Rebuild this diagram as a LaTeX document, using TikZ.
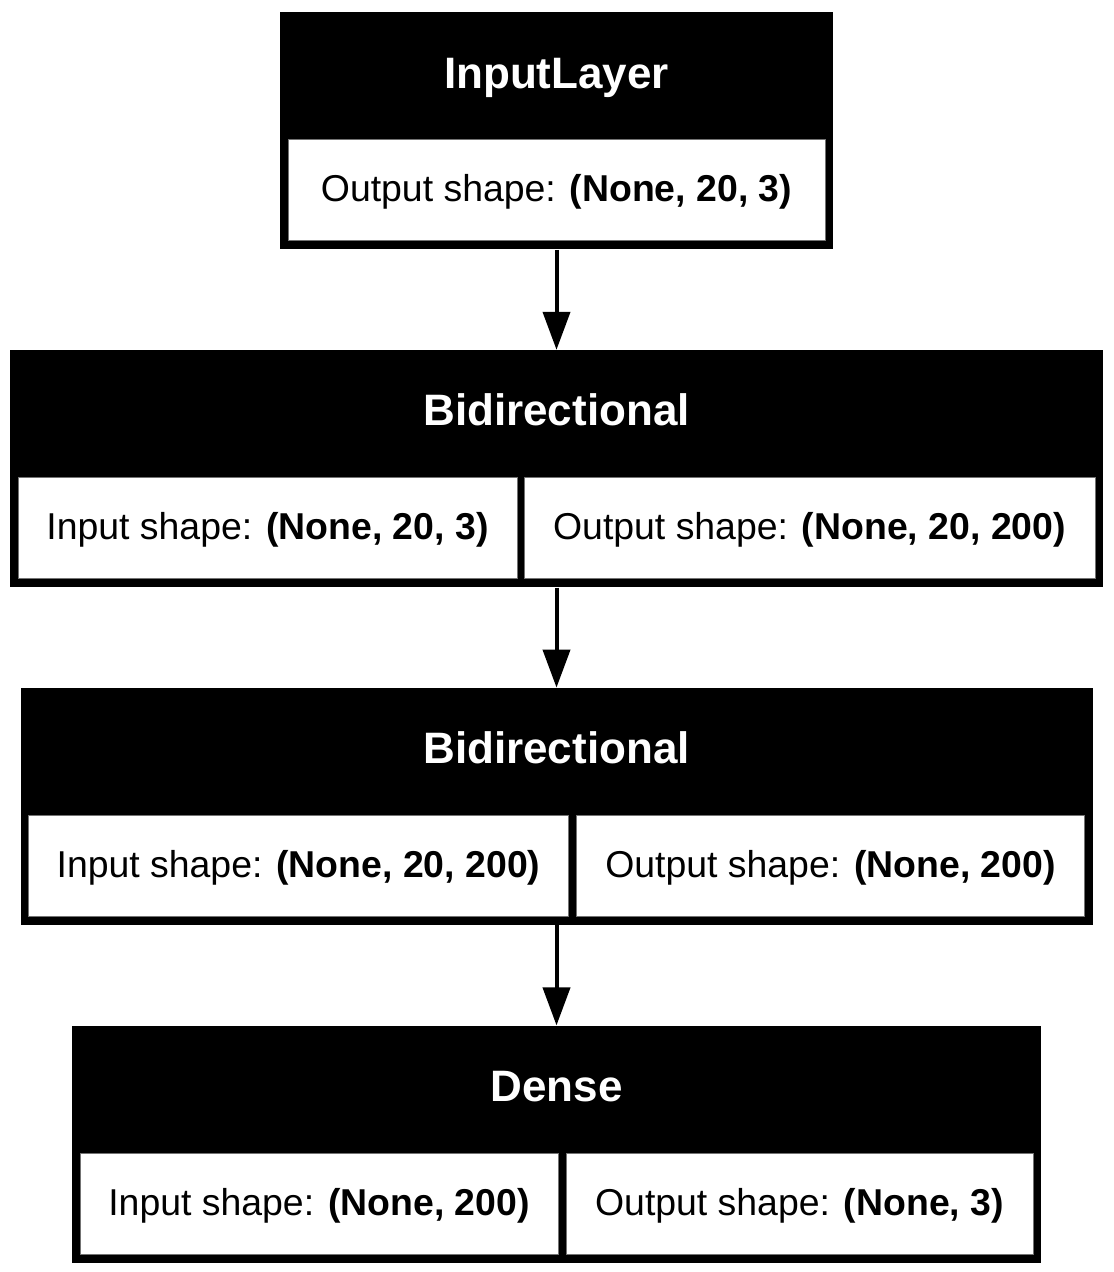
\documentclass[tikz,border=0pt]{standalone}
\usepackage{fontspec}
\setmainfont{Liberation Sans}
\usepackage{tikz}
\usetikzlibrary{positioning, arrows.meta}
\tikzstyle{layer} = [rectangle, inner sep=0pt, minimum height=118.5pt, draw=none, fill=black]
\tikzstyle{title} = [rectangle, inner sep=0pt, minimum height=63.5pt, text=white, font=\fontsize{22}{26}\selectfont\bfseries, text height=0.72em+5pt, text depth=0pt]
\tikzstyle{cell} = [rectangle, inner sep=0pt, minimum height=50.5pt, text centered, draw=black!55, line width=0.4pt, fill=white, font=\fontsize{18.7}{22}\selectfont, text height=0.72em+4pt, text depth=0pt]
\tikzstyle{arrow} = [line width=2pt, -{Triangle[length=19pt, width=13.5pt]}]
\begin{document}
\begin{tikzpicture}[]
\useasboundingbox (0,0) rectangle (556.5pt,-636pt);
\node (layer1) [layer, minimum width=276.5pt, anchor=north] at (278.25pt,-6pt) {};
\node (title1) [title, below=0pt of layer1.north] {InputLayer};
\node (out1) [cell, minimum width=268.5pt, above=4.25pt of layer1.south] {Output shape: \textbf{(None, 20, 3)}};

\node (layer2) [layer, minimum width=546.5pt, below=50pt of layer1] {};
\node (title2) [title, below=0pt of layer2.north] {Bidirectional};
\node (in2) [cell, minimum width=249.5pt, above right=4.25pt and 4pt of layer2.south west] {Input shape: \textbf{(None, 20, 3)}};
\node (out2) [cell, minimum width=285.5pt, above left=4.25pt and 4pt of layer2.south east] {Output shape: \textbf{(None, 20, 200)}};

\node (layer3) [layer, minimum width=536pt, below=50pt of layer2] {};
\node (title3) [title, below=0pt of layer3.north] {Bidirectional};
\node (in3) [cell, minimum width=270pt, above right=4.25pt and 4pt of layer3.south west] {Input shape: \textbf{(None, 20, 200)}};
\node (out3) [cell, minimum width=254pt, above left=4.25pt and 4pt of layer3.south east] {Output shape: \textbf{(None, 200)}};

\node (layer4) [layer, minimum width=484.5pt, below=50pt of layer3] {};
\node (title4) [title, below=0pt of layer4.north] {Dense};
\node (in4) [cell, minimum width=239pt, above right=4.25pt and 4pt of layer4.south west] {Input shape: \textbf{(None, 200)}};
\node (out4) [cell, minimum width=233.5pt, above left=4.25pt and 4pt of layer4.south east] {Output shape: \textbf{(None, 3)}};

\draw[arrow] (layer1) -- (layer2);
\draw[arrow] (layer2) -- (layer3);
\draw[arrow] (layer3) -- (layer4);
\end{tikzpicture}
\end{document}
